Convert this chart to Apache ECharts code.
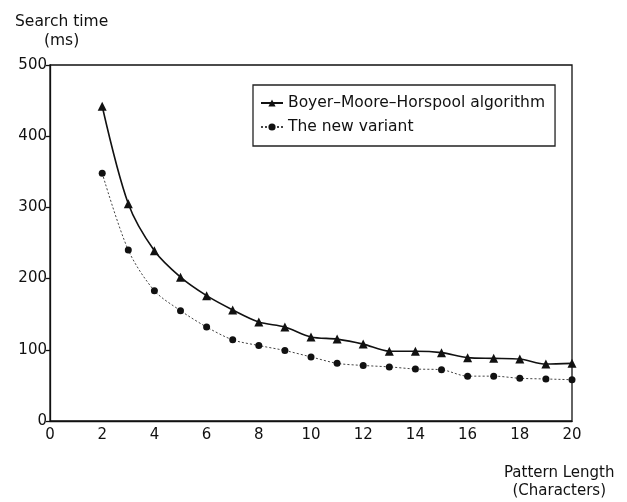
<!DOCTYPE html>
<html>
<head>
<meta charset="utf-8">
<script src="https://cdn.jsdelivr.net/npm/echarts@6/dist/echarts.min.js"></script>
<style>html,body{margin:0;padding:0;background:#fff}#c{width:627px;height:502px}</style>
</head>
<body>
<div id="c"></div>
<script>
const patternLength = [2,3,4,5,6,7,8,9,10,11,12,13,14,15,16,17,18,19,20];
const bmhTimes = [442,305,239,202,176,156,139,132,118,115,108,98,98,96,89,88,87,80,81];
const newVariantTimes = [348,240,183,155,132,114,106,99,90,81,78,76,73,72,63,63,60,59,58];
const seriesNames = ['Boyer\u2013Moore\u2013Horspool algorithm', 'The new variant'];
const yAxisTitle = ['Search time', '(ms)'];
const xAxisTitle = ['Pattern Length', '(Characters)'];

const chart = echarts.init(document.getElementById('c'), null, {renderer: 'canvas'});
const font = 'DejaVu Sans';
chart.setOption({
  backgroundColor: '#fff',
  animation: false,
  textStyle: {fontFamily: font},
  grid: {left: 50, right: 55, top: 65, bottom: 81, show: true, borderColor: '#111', borderWidth: 1.3, backgroundColor: 'transparent'},
  xAxis: {
    type: 'value', min: 0, max: 20, interval: 2,
    axisLine: {lineStyle: {color: '#111', width: 1.3}},
    axisTick: {show: false},
    splitLine: {show: false},
    axisLabel: {color: '#111', fontSize: 15, fontFamily: font, margin: 7}
  },
  yAxis: {
    type: 'value', min: 0, max: 500, interval: 100,
    axisLine: {show: true, lineStyle: {color: '#111', width: 1.3}},
    axisTick: {show: true, length: 4, lineStyle: {color: '#111', width: 1.3}},
    splitLine: {show: false},
    axisLabel: {color: '#111', fontSize: 15, fontFamily: font, margin: 3}
  },
  legend: {
    left: 253, top: 85, orient: 'vertical',
    padding: [10, 10, 11, 7], itemGap: 8, itemWidth: 22, itemHeight: 9,
    borderColor: '#222', borderWidth: 1.3,
    textStyle: {color: '#111', fontSize: 15.5, fontFamily: font},
    data: seriesNames
  },
  graphic: [
    {type: 'text', left: 15, top: 12, style: {text: yAxisTitle.join('\n'), fill: '#111', font: '15.5px ' + font, textAlign: 'center', lineHeight: 19}},
    {type: 'text', left: 504, top: 464, style: {text: xAxisTitle.join('\n'), fill: '#111', font: '15px ' + font, textAlign: 'center', lineHeight: 18}}
  ],
  series: [
    {
      name: seriesNames[0], type: 'line', smooth: 0.3,
      data: patternLength.map((x, i) => [x, bmhTimes[i]]),
      symbol: 'triangle', symbolSize: 9,
      itemStyle: {color: '#111'},
      lineStyle: {color: '#111', width: 1.6}
    },
    {
      name: seriesNames[1], type: 'line', smooth: 0.3,
      data: patternLength.map((x, i) => [x, newVariantTimes[i]]),
      symbol: 'circle', symbolSize: 7,
      itemStyle: {color: '#111'},
      lineStyle: {color: '#444', width: 1, type: [2, 2]}
    }
  ]
});
</script>
</body>
</html>
